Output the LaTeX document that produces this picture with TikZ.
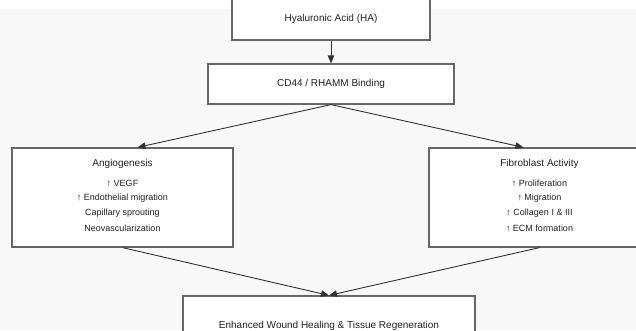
\documentclass[tikz,border=0pt]{standalone}
\usepackage{fontspec}
\setmainfont{Liberation Sans}
\usetikzlibrary{arrows.meta,calc}
\definecolor{bgc}{HTML}{F8F8F8}
\definecolor{edgec}{HTML}{666666}
\definecolor{txtc}{HTML}{222222}
\definecolor{arrc}{HTML}{333333}
\tikzset{
  box/.style={draw=edgec,line width=1.2pt,fill=white,inner sep=0pt,text=txtc,
    font=\fontsize{10}{12}\selectfont},
  ttl/.style={inner sep=0pt,text=txtc,font=\fontsize{10}{12}\selectfont},
  itm/.style={inner sep=0pt,text=txtc,font=\fontsize{9}{11}\selectfont},
  conn/.style={draw=arrc,line width=0.9pt,-{Triangle[length=8pt,width=6.5pt]}}
}
\begin{document}
\begin{tikzpicture}[x=1pt,y=-1pt]
\useasboundingbox (0,0) rectangle (636,330);
\clip (0,0) rectangle (636,330);
\fill[white] (0,0) rectangle (636,330);
\fill[bgc] (0,9) rectangle (636,330);
% boxes
\node[box,minimum width=198pt,minimum height=42pt] (ha) at (331,19) {Hyaluronic Acid (HA)};
\node[box,minimum width=246pt,minimum height=40pt] (cd) at (331,84) {CD44 / RHAMM Binding};
\node[box,minimum width=221pt,minimum height=99pt] (ang) at (122.5,197.5) {};
\node[box,minimum width=221pt,minimum height=99pt] (fib) at (539.5,197.5) {};
\node[box,minimum width=292pt,minimum height=60pt] (out) at (329,326) {Enhanced Wound Healing \& Tissue Regeneration};
% texts
\node[ttl] (angT) at ($(ang.north)+(0,17)$) {Angiogenesis};
\node[itm] (ang1) at ($(ang.north)+(0,36)$) {↑ VEGF};
\node[itm] (ang2) at ($(ang.north)+(0,51)$) {↑ Endothelial migration};
\node[itm] (ang3) at ($(ang.north)+(0,66)$) {Capillary sprouting};
\node[itm] (ang4) at ($(ang.north)+(0,81)$) {Neovascularization};
\node[ttl] (fibT) at ($(fib.north)+(0,17)$) {Fibroblast Activity};
\node[itm] (fib1) at ($(fib.north)+(0,36)$) {↑ Proliferation};
\node[itm] (fib2) at ($(fib.north)+(0,51)$) {↑ Migration};
\node[itm] (fib3) at ($(fib.north)+(0,66)$) {↑ Collagen I \& III};
\node[itm] (fib4) at ($(fib.north)+(0,81)$) {↑ ECM formation};
% connectors
\coordinate (angIn) at ($(ang.north)+(15,0)$);
\coordinate (fibIn) at ($(fib.north)+(-16,0)$);
\draw[conn] (ha.south) -- (cd.north);
\draw[conn] (cd.south) -- (angIn);
\draw[conn] (cd.south) -- (fibIn);
\draw[conn] (ang.south) -- (out.north);
\draw[conn] (fib.south) -- (out.north);
\end{tikzpicture}
\end{document}
